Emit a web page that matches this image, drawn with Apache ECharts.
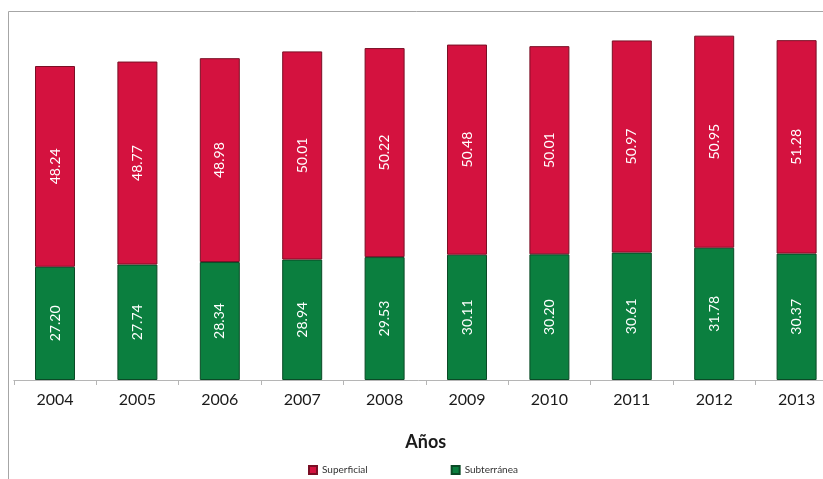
<!DOCTYPE html>
<html>
<head>
<meta charset="utf-8">
<script src="https://cdn.jsdelivr.net/npm/echarts@6/dist/echarts.min.js"></script>
<style>
  html, body { margin: 0; padding: 0; background: #fff; }
  #chart { width: 823px; height: 479px; }
</style>
</head>
<body>
<div id="chart"></div>
<script>
// años y valores
var years = ['2004', '2005', '2006', '2007', '2008', '2009', '2010', '2011', '2012', '2013'];
var subterranea = [27.20, 27.74, 28.34, 28.94, 29.53, 30.11, 30.20, 30.61, 31.78, 30.37];
var superficial = [48.24, 48.77, 48.98, 50.01, 50.22, 50.48, 50.01, 50.97, 50.95, 51.28];

var chart = echarts.init(document.getElementById('chart'));

var barLabel = {
  show: true,
  position: 'inside',
  rotate: 90,
  color: '#ffffff',
  fontFamily: 'Lato',
  fontSize: 14,
  formatter: function (p) {
    return p.value.toFixed(2);
  }
};

var option = {
  animation: false,
  graphic: [
    {
      type: 'rect',
      shape: { x: 8.5, y: 11.5, width: 840, height: 500 },
      style: { fill: 'none', stroke: '#a6a6a6', lineWidth: 1 },
      z: -1
    }
  ],
  legend: {
    data: ['Superficial', 'Subterránea'],
    left: 303,
    top: 460,
    itemWidth: 8,
    itemHeight: 8,
    itemGap: 83,
    icon: 'rect',
    textStyle: { color: '#333', fontSize: 10, fontFamily: 'Lato' }
  },
  grid: {
    left: 13.8,
    width: 824,
    top: 5.4,
    bottom: 99,
    containLabel: false,
    outerBoundsMode: 'none'
  },
  xAxis: {
    type: 'category',
    data: years,
    name: 'Años',
    nameLocation: 'middle',
    nameGap: 53,
    nameTextStyle: { color: '#1a1a1a', fontSize: 18, fontWeight: 'bold', fontFamily: 'Lato' },
    axisLine: { lineStyle: { color: '#b5b5b5', width: 1 } },
    axisTick: { show: true, length: 5, lineStyle: { color: '#b5b5b5' } },
    axisLabel: { color: '#1a1a1a', fontSize: 16, fontFamily: 'Lato', margin: 12 }
  },
  yAxis: {
    type: 'value',
    min: 0,
    max: 90,
    show: false
  },
  series: [
    {
      name: 'Subterránea',
      type: 'bar',
      stack: 'total',
      barWidth: 40,
      data: subterranea,
      itemStyle: { color: '#0b7f3f', borderColor: '#0a4a26', borderWidth: 1 },
      label: barLabel
    },
    {
      name: 'Superficial',
      type: 'bar',
      stack: 'total',
      barWidth: 40,
      data: superficial,
      itemStyle: { color: '#d4123f', borderColor: '#7a0f25', borderWidth: 1 },
      label: barLabel
    }
  ]
};

chart.setOption(option);
</script>
</body>
</html>
